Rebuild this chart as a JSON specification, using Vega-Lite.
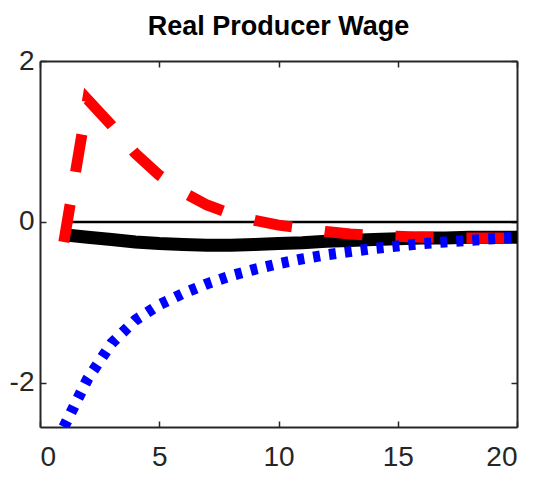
{
  "$schema": "https://vega.github.io/schema/vega-lite/v6.json",
  "width": 477,
  "height": 366,
  "autosize": {"type": "none"},
  "padding": {"left": 40, "top": 61, "right": 16, "bottom": 56},
  "background": "white",
  "title": {
    "text": "Real Producer Wage",
    "font": "Liberation Sans",
    "fontSize": 27,
    "fontWeight": "bold",
    "color": "black",
    "anchor": "middle",
    "offset": 6
  },
  "config": {
    "view": {"stroke": null},
    "axis": {
      "grid": false,
      "domainColor": "#262626",
      "domainWidth": 2,
      "tickColor": "#262626",
      "tickWidth": 1.5,
      "tickSize": -6,
      "labelFont": "Liberation Sans",
      "labelFontSize": 28,
      "labelColor": "#262626",
      "title": null
    }
  },
  "data": {
    "values": [
      {"x": 1, "y": 0, "series": "zero"},
      {"x": 20, "y": 0, "series": "zero"},
      {"x": 1, "y": -0.16, "series": "black"},
      {"x": 2, "y": -0.19, "series": "black"},
      {"x": 3, "y": -0.22, "series": "black"},
      {"x": 4, "y": -0.25, "series": "black"},
      {"x": 5, "y": -0.27, "series": "black"},
      {"x": 6, "y": -0.28, "series": "black"},
      {"x": 7, "y": -0.29, "series": "black"},
      {"x": 8, "y": -0.29, "series": "black"},
      {"x": 9, "y": -0.28, "series": "black"},
      {"x": 10, "y": -0.27, "series": "black"},
      {"x": 11, "y": -0.26, "series": "black"},
      {"x": 12, "y": -0.24, "series": "black"},
      {"x": 13, "y": -0.23, "series": "black"},
      {"x": 14, "y": -0.22, "series": "black"},
      {"x": 15, "y": -0.21, "series": "black"},
      {"x": 16, "y": -0.2, "series": "black"},
      {"x": 17, "y": -0.2, "series": "black"},
      {"x": 18, "y": -0.19, "series": "black"},
      {"x": 19, "y": -0.19, "series": "black"},
      {"x": 20, "y": -0.19, "series": "black"},
      {"x": 1, "y": -0.25, "series": "red"},
      {"x": 2, "y": 1.52, "series": "red"},
      {"x": 3, "y": 1.2, "series": "red"},
      {"x": 4, "y": 0.85, "series": "red"},
      {"x": 5, "y": 0.58, "series": "red"},
      {"x": 6, "y": 0.37, "series": "red"},
      {"x": 7, "y": 0.21, "series": "red"},
      {"x": 8, "y": 0.1, "series": "red"},
      {"x": 9, "y": 0.02, "series": "red"},
      {"x": 10, "y": -0.04, "series": "red"},
      {"x": 11, "y": -0.08, "series": "red"},
      {"x": 12, "y": -0.12, "series": "red"},
      {"x": 13, "y": -0.15, "series": "red"},
      {"x": 14, "y": -0.17, "series": "red"},
      {"x": 15, "y": -0.18, "series": "red"},
      {"x": 16, "y": -0.19, "series": "red"},
      {"x": 17, "y": -0.2, "series": "red"},
      {"x": 18, "y": -0.2, "series": "red"},
      {"x": 19, "y": -0.2, "series": "red"},
      {"x": 20, "y": -0.2, "series": "red"},
      {"x": 1, "y": -2.55, "series": "blue"},
      {"x": 2, "y": -1.95, "series": "blue"},
      {"x": 3, "y": -1.51, "series": "blue"},
      {"x": 4, "y": -1.22, "series": "blue"},
      {"x": 5, "y": -1.03, "series": "blue"},
      {"x": 6, "y": -0.89, "series": "blue"},
      {"x": 7, "y": -0.77, "series": "blue"},
      {"x": 8, "y": -0.67, "series": "blue"},
      {"x": 9, "y": -0.59, "series": "blue"},
      {"x": 10, "y": -0.52, "series": "blue"},
      {"x": 11, "y": -0.46, "series": "blue"},
      {"x": 12, "y": -0.41, "series": "blue"},
      {"x": 13, "y": -0.37, "series": "blue"},
      {"x": 14, "y": -0.33, "series": "blue"},
      {"x": 15, "y": -0.3, "series": "blue"},
      {"x": 16, "y": -0.27, "series": "blue"},
      {"x": 17, "y": -0.25, "series": "blue"},
      {"x": 18, "y": -0.23, "series": "blue"},
      {"x": 19, "y": -0.21, "series": "blue"},
      {"x": 20, "y": -0.19, "series": "blue"}
    ]
  },
  "resolve": {"axis": {"x": "independent", "y": "independent"}},
  "layer": [
    {
      "transform": [{"filter": "datum.series === 'zero'"}],
      "mark": {"type": "line", "color": "black", "strokeWidth": 2.5, "clip": true},
      "encoding": {
        "x": {"field": "x", "type": "quantitative", "scale": {"domain": [0, 20], "nice": false, "zero": false},
          "axis": {"orient": "bottom", "values": [0, 5, 10, 15, 20], "labelPadding": 22, "labelExpr": "toString(datum.value)"}},
        "y": {"field": "y", "type": "quantitative", "scale": {"domain": [-2.55, 2], "nice": false, "zero": false},
          "axis": {"orient": "left", "values": [-2, 0, 2], "labelPadding": 12, "labelExpr": "toString(datum.value)"}}
      }
    },
    {
      "transform": [{"filter": "datum.series === 'black'"}],
      "mark": {"type": "line", "color": "black", "strokeWidth": 13, "clip": true},
      "encoding": {
        "x": {"field": "x", "type": "quantitative", "axis": {"orient": "top", "values": [0, 5, 10, 15, 20], "labels": false}},
        "y": {"field": "y", "type": "quantitative", "axis": {"orient": "right", "values": [-2, 0, 2], "labels": false}}
      }
    },
    {
      "transform": [{"filter": "datum.series === 'red'"}],
      "mark": {"type": "line", "color": "#ff0000", "strokeWidth": 11, "strokeDash": [38, 33], "strokeCap": "butt", "clip": true},
      "encoding": {
        "x": {"field": "x", "type": "quantitative", "axis": null},
        "y": {"field": "y", "type": "quantitative", "axis": null}
      }
    },
    {
      "transform": [{"filter": "datum.series === 'blue'"}],
      "mark": {"type": "line", "color": "#0000ff", "strokeWidth": 11, "strokeDash": [7, 9], "strokeCap": "butt", "clip": true},
      "encoding": {
        "x": {"field": "x", "type": "quantitative", "axis": null},
        "y": {"field": "y", "type": "quantitative", "axis": null}
      }
    }
  ]
}
